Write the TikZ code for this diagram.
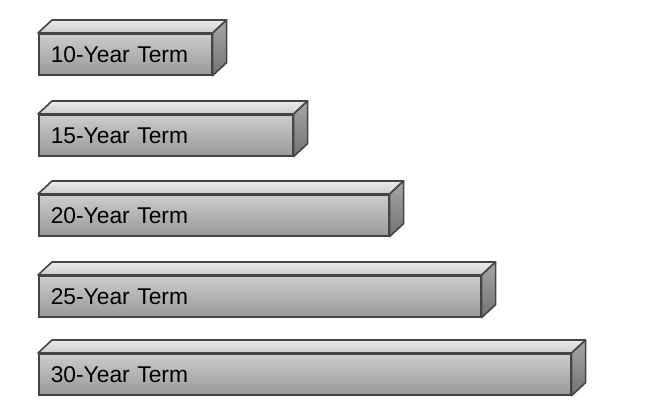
\documentclass[tikz,border=0pt]{standalone}
\usepackage{fontspec}
\setmainfont{Liberation Sans}
\definecolor{edge}{HTML}{454545}

\begin{document}
\begin{tikzpicture}
[every node/.style={inner sep=0pt},
 front/.style={rectangle, anchor=north west, minimum height=41pt, inner xsep=12pt, align=left, line width=1.6pt, draw=edge, top color=black!20, bottom color=black!40, font=\fontsize{22.8}{26}\selectfont},
 topface/.style={line width=1.6pt, draw=edge, line join=round, top color=black!8, bottom color=black!20},
 sideface/.style={line width=1.6pt, draw=edge, line join=round, top color=black!35, bottom color=black!55}]
\useasboundingbox (0pt, 0pt) rectangle (659pt, -420pt);
\node (t10) [front, text width=149pt] at (38pt, -33pt) {10-Year Term};
\node (t15) [front, text width=230pt] at (38pt, -114pt) {15-Year Term};
\node (t20) [front, text width=326pt] at (38pt, -194pt) {20-Year Term};
\node (t25) [front, text width=418pt] at (38pt, -275pt) {25-Year Term};
\node (t30) [front, text width=508pt] at (38pt, -353pt) {30-Year Term};
\draw [topface] (t10.north west) -- ++(14pt, 13pt) -- ([shift={(14pt, 13pt)}]t10.north east) -- (t10.north east) -- cycle;
\draw [sideface] (t10.north east) -- ++(14pt, 13pt) -- ([shift={(14pt, 13pt)}]t10.south east) -- (t10.south east) -- cycle;
\draw [topface] (t15.north west) -- ++(14pt, 13pt) -- ([shift={(14pt, 13pt)}]t15.north east) -- (t15.north east) -- cycle;
\draw [sideface] (t15.north east) -- ++(14pt, 13pt) -- ([shift={(14pt, 13pt)}]t15.south east) -- (t15.south east) -- cycle;
\draw [topface] (t20.north west) -- ++(14pt, 13pt) -- ([shift={(14pt, 13pt)}]t20.north east) -- (t20.north east) -- cycle;
\draw [sideface] (t20.north east) -- ++(14pt, 13pt) -- ([shift={(14pt, 13pt)}]t20.south east) -- (t20.south east) -- cycle;
\draw [topface] (t25.north west) -- ++(14pt, 13pt) -- ([shift={(14pt, 13pt)}]t25.north east) -- (t25.north east) -- cycle;
\draw [sideface] (t25.north east) -- ++(14pt, 13pt) -- ([shift={(14pt, 13pt)}]t25.south east) -- (t25.south east) -- cycle;
\draw [topface] (t30.north west) -- ++(14pt, 13pt) -- ([shift={(14pt, 13pt)}]t30.north east) -- (t30.north east) -- cycle;
\draw [sideface] (t30.north east) -- ++(14pt, 13pt) -- ([shift={(14pt, 13pt)}]t30.south east) -- (t30.south east) -- cycle;

\end{tikzpicture}
\end{document}
